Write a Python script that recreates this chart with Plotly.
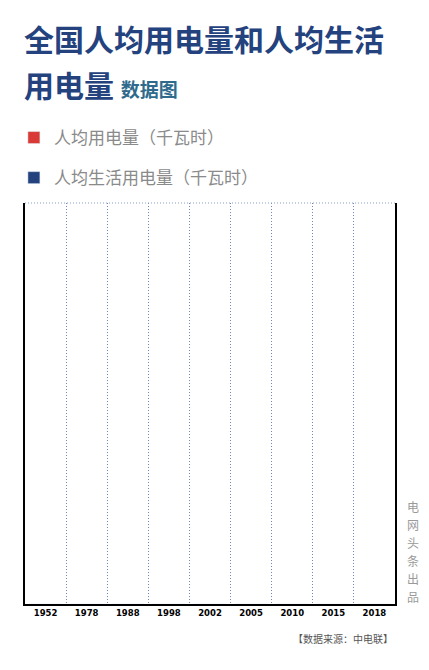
import plotly.graph_objects as go

years = ["1952", "1978", "1988", "1998", "2002", "2005", "2010", "2015", "2018"]
# Bars are shown at their starting (zero-height) state in the reference frame
per_capita_total = [0, 0, 0, 0, 0, 0, 0, 0, 0]
per_capita_residential = [0, 0, 0, 0, 0, 0, 0, 0, 0]
series_names = ["人均用电量（千瓦时）", "人均生活用电量（千瓦时）"]
series_colors = ["#d93a35", "#23427e"]
credit_chars = ["电", "网", "头", "条", "出", "品"]

fig = go.Figure()
fig.add_trace(go.Bar(x=years, y=per_capita_total, name=series_names[0],
                     marker_color=series_colors[0], legendgroup="a"))
fig.add_trace(go.Bar(x=years, y=per_capita_residential, name=series_names[1],
                     marker_color=series_colors[1], legendgroup="b"))

annotations = [
    dict(text="<b>全国人均用电量和人均生活</b>", xref="paper", yref="paper",
         x=-0.008, y=1.411, xanchor="left", yanchor="middle", showarrow=False,
         font=dict(size=30, color="#23427e", family="Noto Sans CJK SC")),
    dict(text="<b>用电量</b> <span style='font-size:19px;color:#2f6a8c'><b>数据图</b></span>",
         xref="paper", yref="paper",
         x=-0.008, y=1.297, xanchor="left", yanchor="middle", showarrow=False,
         font=dict(size=30, color="#23427e", family="Noto Sans CJK SC")),
    dict(text="【数据来源：中电联】", xref="paper", yref="paper",
         x=1.0, y=-0.085, xanchor="right", yanchor="middle", showarrow=False,
         font=dict(size=10, color="#555555", family="Noto Sans CJK SC")),
]
for i, ch in enumerate(credit_chars):
    annotations.append(dict(
        text=ch, xref="paper", yref="paper", x=1.049,
        y=0.242 - i * 0.0448, xanchor="center", yanchor="middle", showarrow=False,
        font=dict(size=12, color="#9a9a9a", family="Noto Sans CJK SC")))

fig.update_layout(
    width=429, height=670,
    margin=dict(l=17, r=42, t=195, b=74, autoexpand=False),
    paper_bgcolor="white", plot_bgcolor="white",
    font=dict(family="Noto Sans CJK SC", color="#888888"),
    barmode="group",
    showlegend=True,
    legend=dict(x=-0.03, y=1.207, xanchor="left", yanchor="top",
                orientation="v", traceorder="grouped", tracegroupgap=15,
                font=dict(size=17, color="#8a8a8a", family="Noto Sans CJK SC"),
                bgcolor="rgba(0,0,0,0)"),
    xaxis=dict(type="category", showline=True, linecolor="black", linewidth=2,
               tickson="boundaries", showgrid=True, gridcolor="#6f88b8",
               griddash="1px,2px", gridwidth=1, ticks="",
               tickfont=dict(family="DejaVu Sans", size=8.5, color="black"),
               tickprefix="<b>", ticksuffix="</b>", mirror=False),
    yaxis=dict(range=[0, 5500], showline=True, linecolor="black", linewidth=2,
               mirror=True, showgrid=False, showticklabels=False, ticks="",
               zeroline=False),
    shapes=[dict(type="line", xref="paper", yref="paper", x0=0, x1=1, y0=1, y1=1,
                 line=dict(color="#8aa0c8", width=1, dash="1px,2px"))],
    annotations=annotations,
)

fig.write_html("out.html")
